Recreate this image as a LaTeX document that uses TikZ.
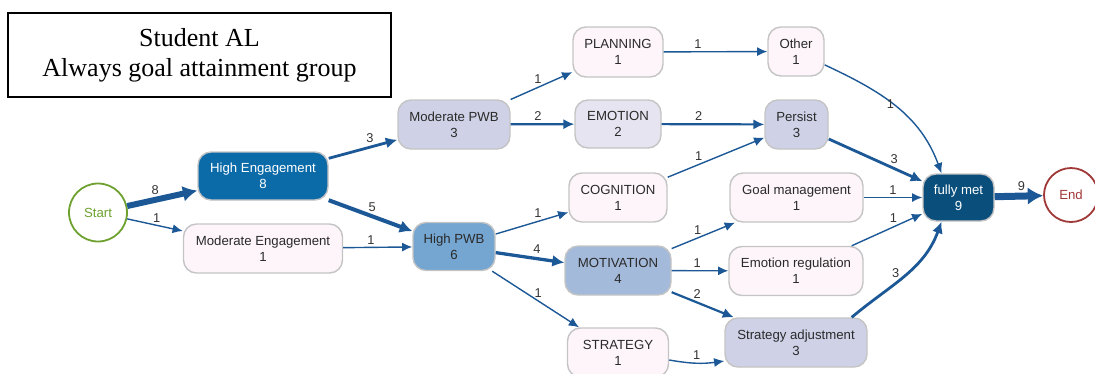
\documentclass[tikz,border=0pt]{standalone}
\usepackage{fontspec}
\setmainfont{Liberation Sans}
\newfontfamily\titlefont{Liberation Serif}
\usetikzlibrary{arrows.meta}

% palette
\definecolor{edgeC}{HTML}{1C5896}
\definecolor{borderC}{HTML}{C4C4C4}
\definecolor{textC}{HTML}{2A2A2A}
\definecolor{labC}{HTML}{333333}
\definecolor{heC}{HTML}{0B6AA8}
\definecolor{fmC}{HTML}{0A4F7C}
\definecolor{hpC}{HTML}{75A6D1}
\definecolor{motC}{HTML}{A4BADB}
\definecolor{midC}{HTML}{CFD2E7}
\definecolor{emoC}{HTML}{E6E4F0}
\definecolor{lowC}{HTML}{FDF5F9}
\definecolor{startC}{HTML}{6EA12F}
\definecolor{endC}{HTML}{A03838}

\tikzset{
  box/.style={draw=borderC, line width=1.4pt, rounded corners=13pt,
    minimum height=49pt, align=center, inner sep=2pt, text=textC,
    font=\fontsize{13.2}{16}\selectfont},
  term/.style={circle, line width=1.8pt, fill=white, inner sep=0pt,
    font=\fontsize{13.2}{16}\selectfont},
  flow/.style={draw=edgeC, -{Latex[length=9pt 0.9, width=7pt 1.5]}},
  c1/.style={line width=1.4pt},
  c2/.style={line width=2.2pt},
  c3/.style={line width=2.8pt},
  c4/.style={line width=3.3pt},
  c5/.style={line width=4pt},
  c8/.style={line width=6pt},
  c9/.style={line width=7pt},
  lab/.style={font=\fontsize{12.8}{15}\selectfont, text=labC, inner sep=1pt},
}

\begin{document}
\begin{tikzpicture}[x=1pt, y=1pt]
\useasboundingbox (0,0) rectangle (1095,-373);

% heading
\node[draw=black, line width=1.2pt, minimum width=383pt, minimum height=84pt,
      align=center, font=\titlefont\fontsize{26}{30}\selectfont] (title)
      at (199.5,-55) {Student AL\\Always goal attainment group};

% terminals
\node[term, draw=startC, text=startC, minimum size=58pt] (start) at (98,-212.5) {Start};
\node[term, draw=endC, text=endC, minimum size=54pt] (end) at (1071,-195) {End};

% states
\node[box, fill=heC, text=white, minimum width=130pt, minimum height=48pt] (he) at (263,-176) {High Engagement\\8};
\node[box, fill=lowC, minimum width=159pt] (me) at (263,-248.5) {Moderate Engagement\\1};
\node[box, fill=midC, minimum width=112pt] (mp) at (454,-124.5) {Moderate PWB\\3};
\node[box, fill=hpC, minimum width=82pt, minimum height=48pt] (hp) at (454,-246.5) {High PWB\\6};
\node[box, fill=lowC, minimum width=90pt, minimum height=50pt] (pl) at (618,-52) {PLANNING\\1};
\node[box, fill=emoC, minimum width=86pt, minimum height=48pt] (emo) at (618,-124) {EMOTION\\2};
\node[box, fill=lowC, minimum width=98pt] (cog) at (618,-197.5) {COGNITION\\1};
\node[box, fill=motC, minimum width=106pt] (mot) at (618,-270.5) {MOTIVATION\\4};
\node[box, fill=lowC, minimum width=101pt] (str) at (618,-352.5) {STRATEGY\\1};
\node[box, fill=lowC, minimum width=56pt] (ot) at (796,-51.5) {Other\\1};
\node[box, fill=midC, minimum width=63pt] (pe) at (796.5,-124.5) {Persist\\3};
\node[box, fill=lowC, minimum width=133pt] (gm) at (796.5,-197.5) {Goal management\\1};
\node[box, fill=lowC, minimum width=134pt] (er) at (796,-271) {Emotion regulation\\1};
\node[box, fill=midC, minimum width=142pt] (sa) at (796,-342.5) {Strategy adjustment\\3};
\node[box, fill=fmC, text=white, minimum width=71pt, minimum height=47pt] (fm) at (958.5,-197.5) {fully met\\9};

% transitions
\draw[flow,c8] (start) -- node[lab,pos=0.4,above=1.5pt]{8} (he);
\draw[flow,c1] (start) -- node[lab,pos=0.53,above=1.5pt]{1} (me);
\draw[flow,c3] (he) -- node[lab,pos=0.6,above=2pt]{3} (mp);
\draw[flow,c5] (he) -- node[lab,pos=0.52,above=2pt]{5} (hp);
\draw[flow,c1] (me) -- node[lab,pos=0.4,above=1.5pt]{1} (hp);
\draw[flow,c1] (mp) -- node[lab,pos=0.44,above=2pt]{1} (pl);
\draw[flow,c2] (mp) -- node[lab,pos=0.43,above=1.5pt]{2} (emo);
\draw[flow,c1] (hp) -- node[lab,pos=0.58,above=2pt]{1} (cog);
\draw[flow,c4] (hp) -- node[lab,pos=0.6,above=2pt]{4} (mot);
\draw[flow,c1] (hp) -- node[lab,pos=0.53,above=2pt]{1} (str);
\draw[flow,c1] (pl) -- node[lab,pos=0.33,above=1.5pt]{1} (ot);
\draw[flow,c2] (emo) -- node[lab,pos=0.36,above=1.5pt]{2} (pe);
\draw[flow,c1] (cog) -- node[lab,pos=0.32,above=2pt]{1} (pe);
\draw[flow,c1] (mot) -- node[lab,pos=0.41,above=2pt]{1} (gm);
\draw[flow,c1] (mot) -- node[lab,pos=0.45,above=1.5pt]{1} (er);
\draw[flow,c2] (mot) -- node[lab,pos=0.41,above=2pt]{2} (sa);
\draw[flow,c1] ([yshift=-7.5pt]str.east) to[out=-10,in=188]
      node[lab,pos=0.5,above=1.5pt]{1} ([yshift=-18.5pt]sa.west);
\draw[flow,c1] (ot) to[out=-25,in=110]
      node[lab,pos=0.47,left=-3pt]{1} ([xshift=-17pt]fm.north);
\draw[flow,c3] (pe) -- node[lab,pos=0.7,above=3pt]{3} (fm);
\draw[flow,c1] (gm) -- node[lab,pos=0.5,above=1.5pt]{1} (fm);
\draw[flow,c1] (er) -- node[lab,pos=0.59,above=2.5pt]{1} (fm);
\draw[flow,c3] ([xshift=-16pt]sa.north east) to[out=40,in=-110]
      node[lab,pos=0.52,left=5pt]{3} ([xshift=-17pt]fm.south);
\draw[flow,c9] (fm) -- node[lab,pos=0.55,above=1pt]{9} (end);
\end{tikzpicture}
\end{document}
